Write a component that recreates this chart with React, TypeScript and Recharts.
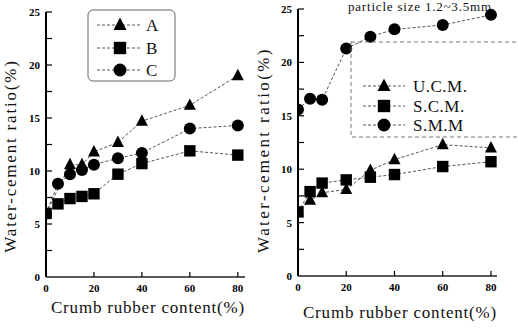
import React from 'react';
import { LineChart, Line, XAxis, YAxis } from 'recharts';

// ---------- data ----------
const yTicks = [0, 2.5, 5, 7.5, 10, 12.5, 15, 17.5, 20, 22.5, 25];
const xTicks = [0, 20, 40, 60, 80];

const leftNames = ['A', 'B', 'C'];
const leftAx = [0, 10, 15, 20, 30, 40, 60, 80];
const leftA = [6, 10.6, 10.6, 11.8, 12.7, 14.7, 16.2, 19.0];
const leftBCx = [0, 5, 10, 15, 20, 30, 40, 60, 80];
const leftB = [6, 6.9, 7.4, 7.6, 7.85, 9.7, 10.7, 11.9, 11.5];
const leftC = [6, 8.8, 9.7, 10.1, 10.6, 11.2, 11.7, 14.0, 14.3];

const rightNames = ['U.C.M.', 'S.C.M.', 'S.M.M'];
const rightX = [0, 5, 10, 20, 30, 40, 60, 80];
const rightUCM = [6, 7.1, 7.8, 8.1, 9.9, 10.9, 12.3, 12.0];
const rightSCM = [6, 7.9, 8.7, 9.0, 9.25, 9.5, 10.25, 10.7];
const rightSMM = [15.6, 16.6, 16.5, 21.3, 22.4, 23.1, 23.5, 24.45];

const shapes = ['triangle', 'square', 'circle'];
const yTitle = 'Water-cement ratio(%)';
const xTitle = 'Crumb rubber content(%)';
const rightTitle = 'particle size 1.2~3.5mm';

const toRows = (xs: number[], ys: number[]) => xs.map((x, i) => ({ x, y: ys[i] }));

const FONT = 'Liberation Serif, Times New Roman, serif';
const LINE = '#555';
const serif = (size: number, extra: React.CSSProperties = {}): React.CSSProperties => ({
  fontFamily: FONT,
  fontSize: size,
  ...extra,
});

function Marker({ shape, cx, cy, s = 12 }: { shape: string; cx: number; cy: number; s?: number }) {
  if (shape === 'triangle') {
    const h = s * 0.95;
    return (
      <polygon
        points={`${cx},${cy - h * 0.6} ${cx - s / 2},${cy + h * 0.4} ${cx + s / 2},${cy + h * 0.4}`}
        fill="#000"
      />
    );
  }
  if (shape === 'square') {
    const q = s * 0.95;
    return <rect x={cx - q / 2} y={cy - q / 2} width={q} height={q} fill="#000" />;
  }
  return <circle cx={cx} cy={cy} r={s / 2} fill="#000" />;
}

const makeDot = (shape: string) => (p: any) => {
  if (p.cx == null || p.cy == null) return <g key={`n${p.index}`} />;
  return <Marker key={`${shape}${p.index}`} shape={shape} cx={p.cx} cy={p.cy} />;
};

const YTick = (p: any) => {
  const v = p.payload.value;
  const major = v % 5 === 0;
  return (
    <g>
      {v > 0 && <line x1={p.x} x2={p.x + 6} y1={p.y} y2={p.y} stroke="#000" strokeWidth={1.2} />}
      {major && (
        <text x={p.x - 6} y={p.y + 4} textAnchor="end" style={serif(11, { fontWeight: 'bold' })} fill="#000">
          {v}
        </text>
      )}
    </g>
  );
};

const XTick = (p: any) => {
  const v = p.payload.value;
  return (
    <g>
      {v > 0 && <line x1={p.x} x2={p.x} y1={p.y} y2={p.y - 5} stroke="#000" strokeWidth={1.2} />}
      <text x={p.x} y={p.y + 15} textAnchor="middle" style={serif(11, { fontWeight: 'bold' })} fill="#000">
        {v}
      </text>
    </g>
  );
};

function Panel({
  left,
  yAxisW,
  top,
  right,
  xAxisH,
  xMax,
  series,
}: {
  left: number;
  yAxisW: number;
  top: number;
  right: number;
  xAxisH: number;
  xMax: number;
  series: { name: string; rows: { x: number; y: number }[]; shape: string }[];
}) {
  return (
    <div style={{ position: 'absolute', left, top: 0, width: 259, height: 329 }}>
      <LineChart width={259} height={329} margin={{ top, right, left: 0, bottom: 0 }}>
        <XAxis
          type="number"
          dataKey="x"
          domain={[0, xMax]}
          ticks={xTicks}
          allowDataOverflow
          height={xAxisH}
          tickSize={0}
          tickMargin={0}
          tickLine={false}
          axisLine={{ stroke: '#222', strokeWidth: 1.5 }}
          tick={<XTick />}
        />
        <YAxis
          type="number"
          domain={[0, 25]}
          ticks={yTicks}
          width={yAxisW}
          tickSize={0}
          tickMargin={0}
          tickLine={false}
          interval={0}
          axisLine={{ stroke: '#000', strokeWidth: 2 }}
          tick={<YTick />}
        />
        {series.map((s) => (
          <Line
            key={s.name}
            name={s.name}
            data={s.rows}
            dataKey="y"
            type="linear"
            stroke={LINE}
            strokeWidth={1}
            strokeDasharray="3 2"
            dot={makeDot(s.shape)}
            activeDot={false}
            isAnimationActive={false}
          />
        ))}
      </LineChart>
    </div>
  );
}

export default function App() {
  const leftSeries = [
    { name: leftNames[0], rows: toRows(leftAx, leftA), shape: shapes[0] },
    { name: leftNames[1], rows: toRows(leftBCx, leftB), shape: shapes[1] },
    { name: leftNames[2], rows: toRows(leftBCx, leftC), shape: shapes[2] },
  ];
  const rightSeries = [
    { name: rightNames[0], rows: toRows(rightX, rightUCM), shape: shapes[0] },
    { name: rightNames[1], rows: toRows(rightX, rightSCM), shape: shapes[1] },
    { name: rightNames[2], rows: toRows(rightX, rightSMM), shape: shapes[2] },
  ];
  const leftLegendY = [25, 48, 70];
  const rightLegendY = [86, 106, 125];
  return (
    <div
      style={{
        position: 'absolute',
        left: 0,
        top: 0,
        width: 518,
        height: 329,
        background: '#fff',
        overflow: 'hidden',
      }}
    >
      <Panel left={0} yAxisW={46} top={12} right={14} xAxisH={52} xMax={83} series={leftSeries} />
      <Panel left={259} yAxisW={39} top={9} right={21} xAxisH={53} xMax={82.5} series={rightSeries} />
      <svg
        width={518}
        height={329}
        style={{ position: 'absolute', left: 0, top: 0, pointerEvents: 'none' }}
      >
        {/* axis titles */}
        <text
          transform="translate(16,156) rotate(-90)"
          textAnchor="middle"
          style={serif(17, { letterSpacing: '1.8px' })}
          fill="#111"
        >
          {yTitle}
        </text>
        <text
          transform="translate(269,150) rotate(-90)"
          textAnchor="middle"
          style={serif(17, { letterSpacing: '2.4px' })}
          fill="#111"
        >
          {yTitle}
        </text>
        <text x={148} y={313} textAnchor="middle" style={serif(17, { letterSpacing: '0.8px' })} fill="#111">
          {xTitle}
        </text>
        <text x={400} y={318} textAnchor="middle" style={serif(17, { letterSpacing: '0.8px' })} fill="#111">
          {xTitle}
        </text>
        <text x={348} y={11} style={serif(13, { letterSpacing: '0.8px' })} fill="#111">
          {rightTitle}
        </text>

        {/* left legend */}
        <rect x={88} y={10} width={87} height={71} rx={5} ry={5} fill="none" stroke="#666" strokeWidth={1} />
        {leftSeries.map((s, i) => (
          <g key={s.name}>
            <line x1={97} x2={141} y1={leftLegendY[i]} y2={leftLegendY[i]} stroke={LINE} strokeDasharray="3 2" />
            <Marker shape={s.shape} cx={120} cy={leftLegendY[i]} s={13} />
            <text x={146} y={leftLegendY[i] + 6} style={serif(17)} fill="#111">
              {s.name}
            </text>
          </g>
        ))}

        {/* right legend */}
        <rect x={351} y={42} width={200} height={95} fill="none" stroke="#777" strokeWidth={1} strokeDasharray="4 3" />
        {rightSeries.map((s, i) => (
          <g key={s.name}>
            <line x1={363} x2={405} y1={rightLegendY[i]} y2={rightLegendY[i]} stroke={LINE} strokeDasharray="3 2" />
            <Marker shape={s.shape} cx={384} cy={rightLegendY[i]} s={13} />
            <text x={413} y={rightLegendY[i] + 6} style={serif(17, { letterSpacing: '0.5px' })} fill="#111">
              {s.name}
            </text>
          </g>
        ))}
      </svg>
    </div>
  );
}
